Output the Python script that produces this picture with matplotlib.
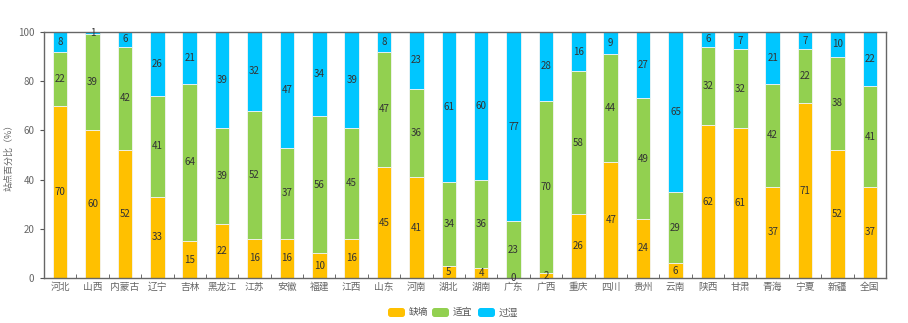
import numpy as np
import matplotlib.pyplot as plt
from matplotlib.patches import FancyBboxPatch

plt.rcParams['font.family'] = ['Noto Sans CJK SC', 'DejaVu Sans']

provinces = ['河北', '山西', '内蒙古', '辽宁', '吉林', '黑龙江', '江苏', '安徽', '福建', '江西',
             '山东', '河南', '湖北', '湖南', '广东', '广西', '重庆', '四川', '贵州', '云南',
             '陕西', '甘肃', '青海', '宁夏', '新疆', '全国']
dry = [70, 60, 52, 33, 15, 22, 16, 16, 10, 16, 45, 41, 5, 4, 0, 2, 26, 47, 24, 6, 62, 61, 37, 71, 52, 37]
fit = [22, 39, 42, 41, 64, 39, 52, 37, 56, 45, 47, 36, 34, 36, 23, 70, 58, 44, 49, 29, 32, 32, 42, 22, 38, 41]
wet = [8, 1, 6, 26, 21, 39, 32, 47, 34, 39, 8, 23, 61, 60, 77, 28, 16, 9, 27, 65, 6, 7, 21, 7, 10, 22]
series = ['缺墒', '适宜', '过湿']
colors = ['#FFC000', '#92D050', '#00C6FF']

fig = plt.figure(figsize=(9.08, 3.23), dpi=100)
ax = fig.add_axes([44/908, 1-278/323, (886-44)/908, (278-32)/323])

x = np.arange(len(provinces))
bottom = np.zeros(len(provinces))
for name, vals, c in zip(series, [dry, fit, wet], colors):
    vals = np.array(vals, dtype=float)
    ax.bar(x, vals, width=0.45, bottom=bottom, color=c, edgecolor='#f4f4f4', linewidth=0.6, label=name)
    for xi, b, v in zip(x, bottom, vals):
        ax.text(xi, b + v / 2, str(int(v)), ha='center', va='center', fontsize=7, color='#333333')
    bottom += vals

ax.set_xlim(-0.5, len(provinces) - 0.5)
ax.set_ylim(0, 100)
ax.set_yticks([0, 20, 40, 60, 80, 100])
ax.set_xticks(x)
ax.set_xticklabels(provinces)
ax.set_xticks(np.arange(-0.5, len(provinces)), minor=True)
ax.tick_params(axis='x', which='major', length=0, labelsize=7, colors='#666666', pad=3)
ax.tick_params(axis='x', which='minor', length=3, direction='in', color='#555555')
ax.tick_params(axis='y', length=3, labelsize=7, colors='#666666', pad=4)
ax.tick_params(axis='y', color='#555555')
for s in ax.spines.values():
    s.set_color('#666666')
    s.set_linewidth(1)
ax.set_ylabel('站点百分比（%）', fontsize=6.5, color='#666666', labelpad=3)

# legend with rounded swatches
lx = [388, 432, 478]
for px, name, c in zip(lx, series, colors):
    fig.patches.append(FancyBboxPatch((px / 908, 1 - 317/323), 17/908, 9/323,
                                      boxstyle='round,pad=0,rounding_size=0.003',
                                      transform=fig.transFigure, facecolor=c, edgecolor='none',
                                      mutation_aspect=908/323))
    fig.text((px + 21) / 908, 1 - 312.5/323, name, fontsize=7, color='#555555', va='center', ha='left')

fig.savefig('out.png', dpi=100)
